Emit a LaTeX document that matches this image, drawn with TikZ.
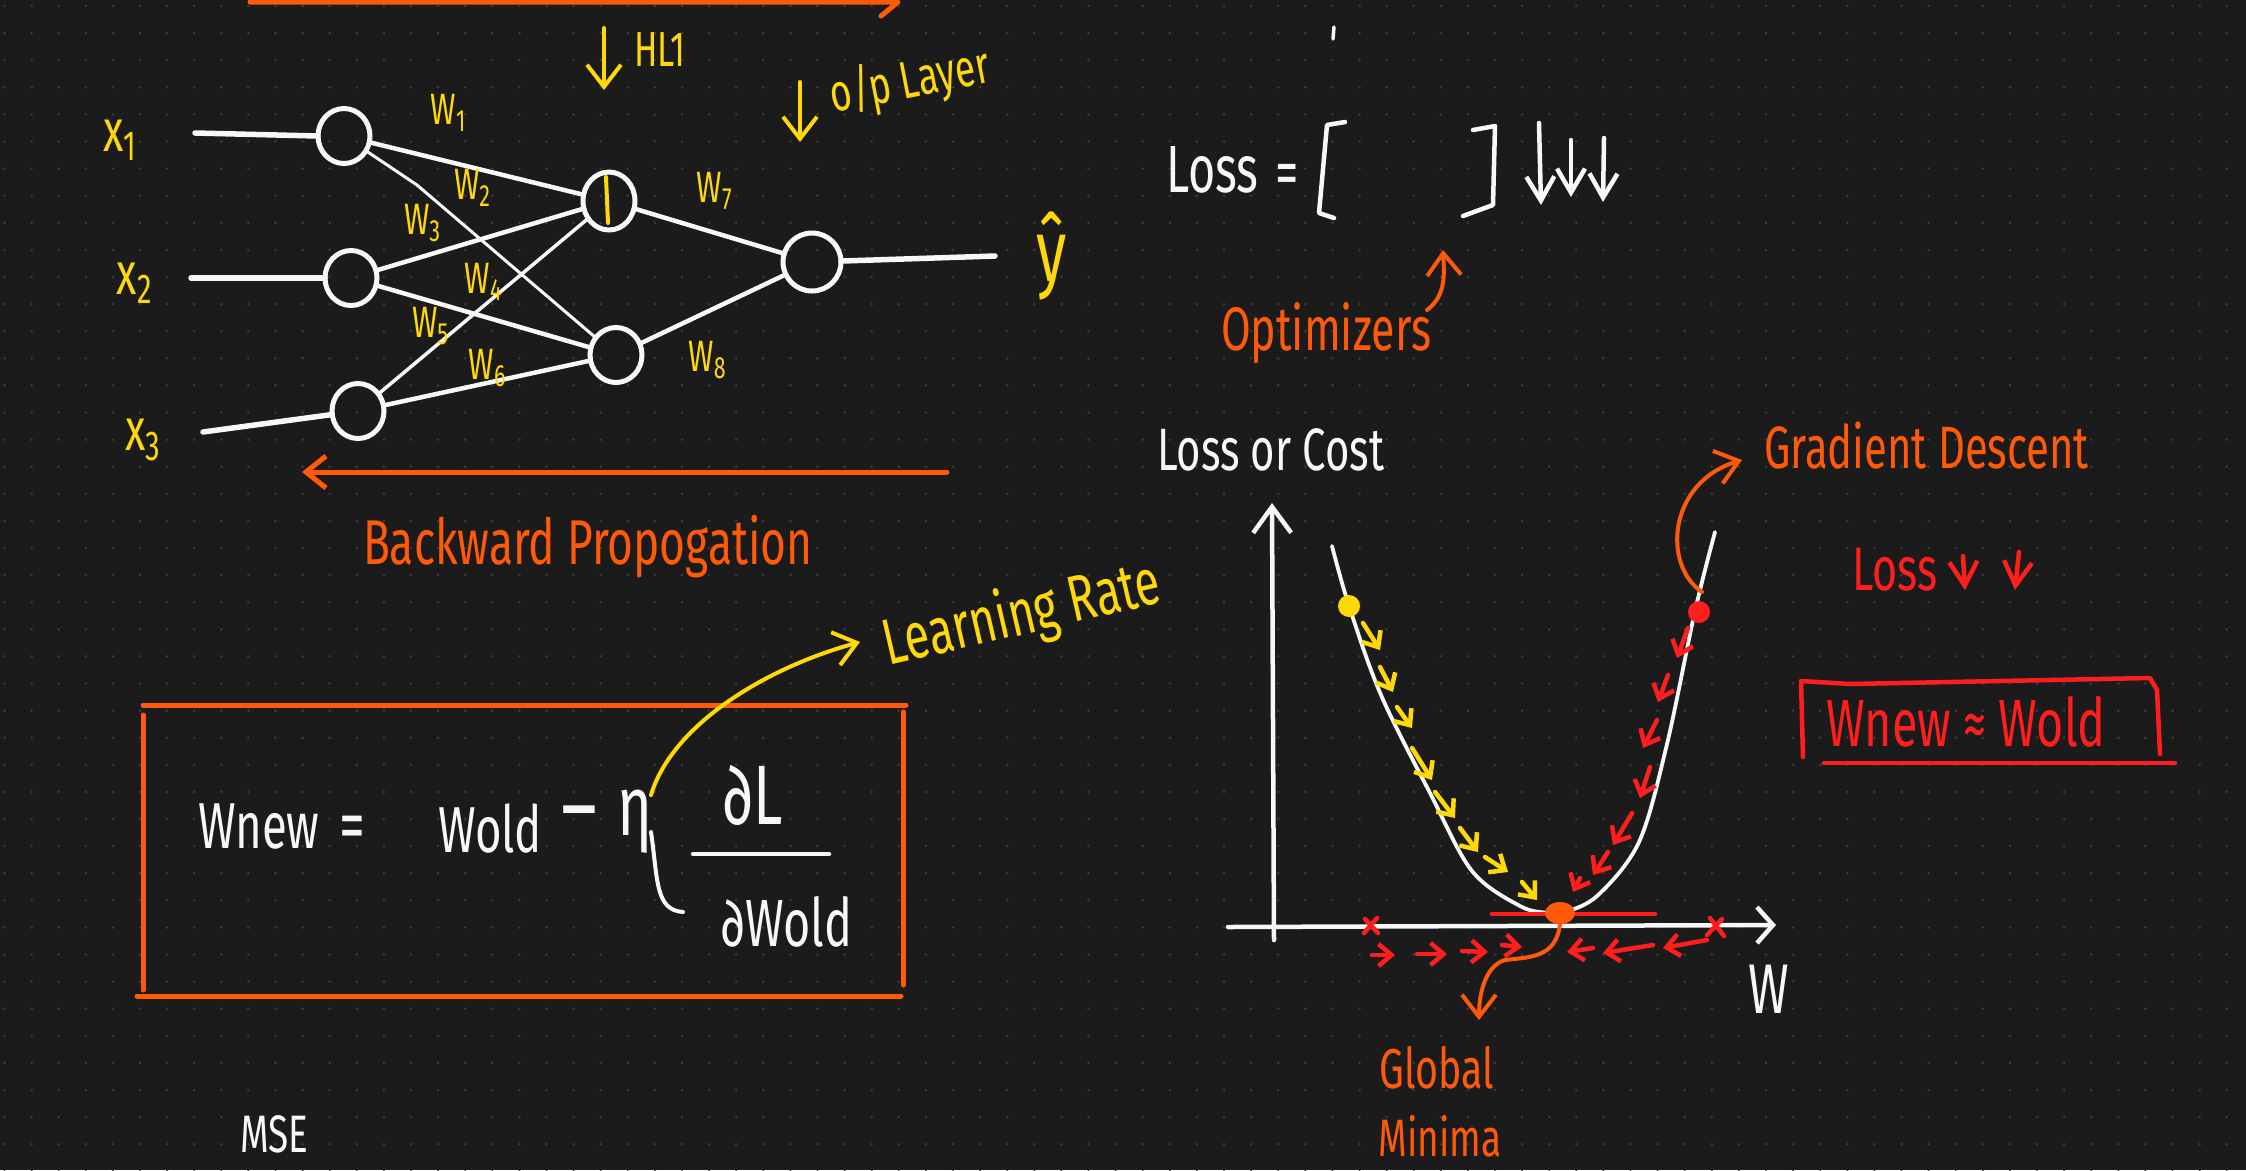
\documentclass[tikz,border=0pt]{standalone}
\usepackage{fontspec}
\newfontfamily\hand{Fira Sans}[FakeStretch=0.7]
\usetikzlibrary{shapes.geometric,arrows.meta}
\definecolor{bg}{HTML}{1B1B1B}
\definecolor{dotc}{HTML}{3A3A3A}
\definecolor{wht}{HTML}{F7F7F7}
\definecolor{ylw}{HTML}{FFD80A}
\definecolor{orng}{HTML}{FF5A0A}
\definecolor{rd}{HTML}{FF1E1E}
\tikzset{
  every node/.style={inner sep=0pt, outer sep=0pt},
  wline/.style={draw=wht, line width=0.45mm, line cap=round, line join=round},
  oline/.style={draw=orng, line width=0.5mm, line cap=round, line join=round},
  yline/.style={draw=ylw, line width=0.4mm, line cap=round, line join=round},
  rline/.style={draw=rd, line width=0.4mm, line cap=round, line join=round},
  neuron/.style={ellipse, draw=wht, line width=0.5mm, minimum width=5.2mm, minimum height=5.5mm},
  barb/.style={-{Straight Barb[length=2.2mm,width=3.4mm]}},
  dbarb/.style={-{Straight Barb[length=2.4mm,width=2.8mm]}},
  sarr/.style={-{Straight Barb[length=1.3mm,width=2.2mm]}},
  hw/.style={font=\hand\fontsize{#1}{#1}\selectfont},
}
\begin{document}
\begin{tikzpicture}[x=0.1mm, y=-0.1mm]
\useasboundingbox (0,0) rectangle (2246,1170);
\clip (0,0) rectangle (2246,1170);
\fill[bg] (0,0) rectangle (2246,1170);
% dotted grid
\foreach \i in {0,...,82}
  \draw[dotc, line width=0.3mm, line cap=round, dash pattern=on 0pt off 2.71mm] ({4.5+27.1*\i},6) -- ({4.5+27.1*\i},1175);

% ---------- forward / backward arrows ----------
\coordinate (fpL) at (250,2);
\coordinate (fpR) at (898,2);
\draw[oline] (fpL) -- (fpR) -- ++(-17,14);
\coordinate (bpR) at (947,472);
\coordinate (bpL) at (302,472);
\draw[oline, -{Straight Barb[length=2mm,width=3.2mm]}] (bpR) -- (bpL);
\node[text=orng, hw=18, anchor=base west] (bp) at (363,564) {Backward Propogation};

% ---------- network ----------
\node[neuron] (i1) at (344,136) {};
\node[neuron] (i2) at (351,278) {};
\node[neuron] (i3) at (358,411) {};
\node[neuron, minimum height=5.8mm] (h1) at (609,201) {};
\node[neuron] (h2) at (616,355) {};
\node[neuron, minimum width=5.8mm, minimum height=5.8mm] (o1) at (812,262) {};

\coordinate (x1s) at (195,133);
\coordinate (x2s) at (191,278);
\coordinate (x3s) at (203,432);
\coordinate (ye) at (995,256);
\draw[wline, line width=0.55mm] (x1s) -- (i1.west);
\draw[wline, line width=0.55mm] (x2s) -- (i2.west);
\draw[wline, line width=0.55mm] (x3s) -- (i3);
\draw[wline, line width=0.55mm] (o1) -- (ye);

\draw[wline] (i1) -- (h1);
\coordinate (bend) at (417,185);
\draw[wline, line width=0.3mm] (i1) -- (bend) -- (h2);
\draw[wline] (i2) -- (h1);
\draw[wline] (i2) -- (h2);
\draw[wline, line width=0.35mm] (i3) -- (h1);
\draw[wline] (i3) -- (h2);
\draw[wline] (h1) -- (o1);
\draw[wline] (h2) -- (o1);
\draw[yline] (h1.center) ++(-3,-24) -- ++(2,46);

\node[text=ylw, hw=17] (lx1) at (121,140) {x\textsubscript{1}};
\node[text=ylw, hw=17] (lx2) at (135,283) {x\textsubscript{2}};
\node[text=ylw, hw=17] (lx3) at (144,440) {x\textsubscript{3}};

\node[text=ylw, hw=12.5] (lw1) at (449,113) {W\textsubscript{1}};
\node[text=ylw, hw=12.5] (lw2) at (473,188) {W\textsubscript{2}};
\node[text=ylw, hw=12.5] (lw3) at (423,223) {W\textsubscript{3}};
\node[text=ylw, hw=12.5] (lw4) at (484,282) {W\textsubscript{4}};
\node[text=ylw, hw=12.5] (lw5) at (431,326) {W\textsubscript{5}};
\node[text=ylw, hw=12.5] (lw6) at (488,368) {W\textsubscript{6}};
\node[text=ylw, hw=12.5] (lw7) at (715,191) {W\textsubscript{7}};
\node[text=ylw, hw=12.5] (lw8) at (708,360) {W\textsubscript{8}};

\coordinate (hlA) at (604,28);
\coordinate (hlB) at (604,90);
\draw[yline, barb] (hlA) -- (hlB);
\node[text=ylw, hw=14] (hl) at (660,50) {HL1};
\coordinate (opA) at (800,82);
\coordinate (opB) at (800,142);
\draw[yline, barb] (opA) -- (opB);
\node[text=ylw, hw=15, rotate=11] (opl) at (910,82) {o/p Layer};
\node[text=ylw, hw=25] (yhat) at (1052,256) {ŷ};

% ---------- update rule box ----------
\draw[oline] (143,705) -- (906,705);
\draw[oline] (143,715) -- (143,990);
\draw[oline] (903,712) -- (903,985);
\draw[oline] (137,996) -- (901,996);

\node[text=wht, hw=18.5, anchor=base west] (wnew) at (198,848) {Wnew};
\node[text=wht, hw=21] (eq) at (352,833) {=};
\node[text=wht, hw=18.5, anchor=base west] (wold) at (438,852) {Wold};
\node[text=wht, hw=28, anchor=base] (minus) at (579,840) {–};
\node[text=wht, hw=24] (eta) at (635,822) {η};
\coordinate (etaB) at (651,832);
\coordinate (etaF) at (683,912);
\draw[wline, line width=0.4mm] (etaB) .. controls (658,880) and (655,910) .. (etaF);
\node[text=wht, hw=24] (dL) at (753,795) {∂L};
\draw[wline] (693,854) -- (829,854);
\node[text=wht, hw=19] (dW) at (787,922) {∂Wold};

\node[text=ylw, hw=18.5, rotate=13] (lr) at (1022,616) {Learning Rate};
\coordinate (etaT) at (651,795);
\coordinate (lrA) at (860,642);
\draw[yline, barb] (etaT) .. controls (672,725) and (765,668) .. (lrA);

% ---------- loss ----------
\draw[wline, line width=0.35mm] (1334,27) -- (1333,39);
\node[text=wht, hw=19, anchor=base west] (loss) at (1166,192) {Loss};
\node[text=wht, hw=19] (eq2) at (1287,180) {=};
\draw[wline] (1345,122) -- (1327,125) -- (1319,213) -- (1334,218);
\draw[wline] (1473,130) -- (1495,126) -- (1493,205) -- (1463,216);
\coordinate (d1a) at (1539,123); \coordinate (d1b) at (1541,205);
\coordinate (d2a) at (1571,140); \coordinate (d2b) at (1571,197);
\coordinate (d3a) at (1604,138); \coordinate (d3b) at (1603,202);
\draw[wline, dbarb] (d1a) -- (d1b);
\draw[wline, dbarb] (d2a) -- (d2b);
\draw[wline, dbarb] (d3a) -- (d3b);

\node[text=orng, hw=17.5, anchor=base west] (opt) at (1221,350) {Optimizers};
\coordinate (optA) at (1427,310);
\coordinate (optB) at (1443,250);
\draw[oline, line width=0.4mm, barb] (optA) .. controls (1447,295) and (1444,272) .. (optB);

% ---------- gradient descent graph ----------
\node[text=wht, hw=17, anchor=base west] (lc) at (1157,470) {Loss or Cost};
\coordinate (yb) at (1274,940);
\coordinate (yt) at (1272,503);
\draw[wline, -{Straight Barb[length=2.6mm,width=3.8mm]}] (yb) -- (yt);
\coordinate (xl) at (1228,927);
\coordinate (xr) at (1776,925);
\draw[wline, -{Straight Barb[length=1.6mm,width=3.6mm]}] (xl) -- (xr);
\node[text=wht, hw=20] (wax) at (1769,989) {W};

\draw[wline, line width=0.38mm] plot[smooth, tension=0.55] coordinates {
  (1332,546) (1349,606) (1381,695) (1430,793) (1472,871) (1520,906)
  (1548,913) (1562,913) (1597,896) (1639,842) (1667,744) (1695,611) (1715,532)};

\draw[rline, line width=0.45mm] (1492,914) -- (1655,914);
\node[circle, fill=ylw, minimum size=2.2mm] (ydot) at (1349,606) {};
\node[circle, fill=rd, minimum size=2.2mm] (rdot) at (1699,612) {};
\node[ellipse, fill=orng, minimum width=3mm, minimum height=2.2mm] (odot) at (1560,913) {};

\foreach \xa/\ya/\xb/\yb in {1363/623/1380/650, 1380/667/1393/692, 1397/707/1412/728,
   1412/748/1432/780, 1435/792/1455/818, 1460/828/1478/852, 1485/857/1508/872, 1522/882/1537/900}
  \draw[yline, line width=0.45mm, sarr] (\xa,\ya) -- (\xb,\yb);
\foreach \xa/\ya/\xb/\yb in {1688/628/1677/658, 1668/675/1658/702, 1657/720/1643/748,
   1650/767/1640/798, 1632/813/1613/845, 1608/852/1593/875, 1580/878/1573/892}
  \draw[rline, line width=0.45mm, sarr] (\xa,\ya) -- (\xb,\yb);
\foreach \xa/\ya/\xb/\yb in {1372/955/1395/955, 1417/954/1447/954, 1462/951/1488/952, 1502/945/1522/947,
   1593/948/1567/952, 1653/945/1603/953, 1707/940/1663/948}
  \draw[rline, line width=0.45mm, sarr] (\xa,\ya) -- (\xb,\yb);
\draw[rline, line width=0.45mm] (1365,919) -- (1378,933) (1364,933) -- (1377,918);
\draw[rline, line width=0.45mm] (1710,918) -- (1724,936) (1707,935) -- (1722,919);

\coordinate (gdS) at (1702,592);
\coordinate (gdE) at (1742,460);
\draw[oline, line width=0.4mm, barb] (gdS) .. controls (1662,565) and (1668,482) .. (gdE);
\node[text=orng, hw=17, anchor=base west] (gd) at (1764,468) {Gradient Descent};

\node[text=rd, hw=17.5, anchor=base west] (lossr) at (1852,590) {Loss};
\coordinate (r1a) at (1963,556); \coordinate (r1b) at (1965,590);
\coordinate (r2a) at (2019,552); \coordinate (r2b) at (2015,590);
\draw[rline, line width=0.45mm, dbarb] (r1a) -- (r1b);
\draw[rline, line width=0.45mm, dbarb] (r2a) -- (r2b);

\draw[rline, line width=0.45mm] (1803,757) -- (1801,681) -- (1850,684) -- (2150,678) -- (2157,690) -- (2160,754);
\draw[rline, line width=0.45mm] (1824,763) -- (2175,763);
\node[text=rd, hw=19] (wrel) at (1966,722) {Wnew ≈ Wold};

\coordinate (gmE) at (1479,1020);
\draw[oline, line width=0.4mm, barb] (odot.south) .. controls (1556,958) and (1530,957) .. (1505,960)
   .. controls (1487,965) and (1479,990) .. (gmE);
\node[text=orng, hw=16] (gm1) at (1437,1068) {Global};
\node[text=orng, hw=15] (gm2) at (1440,1136) {Minima};

\node[text=wht, hw=15, anchor=north west] (mse) at (240,1116) {MSE};
\end{tikzpicture}
\end{document}
